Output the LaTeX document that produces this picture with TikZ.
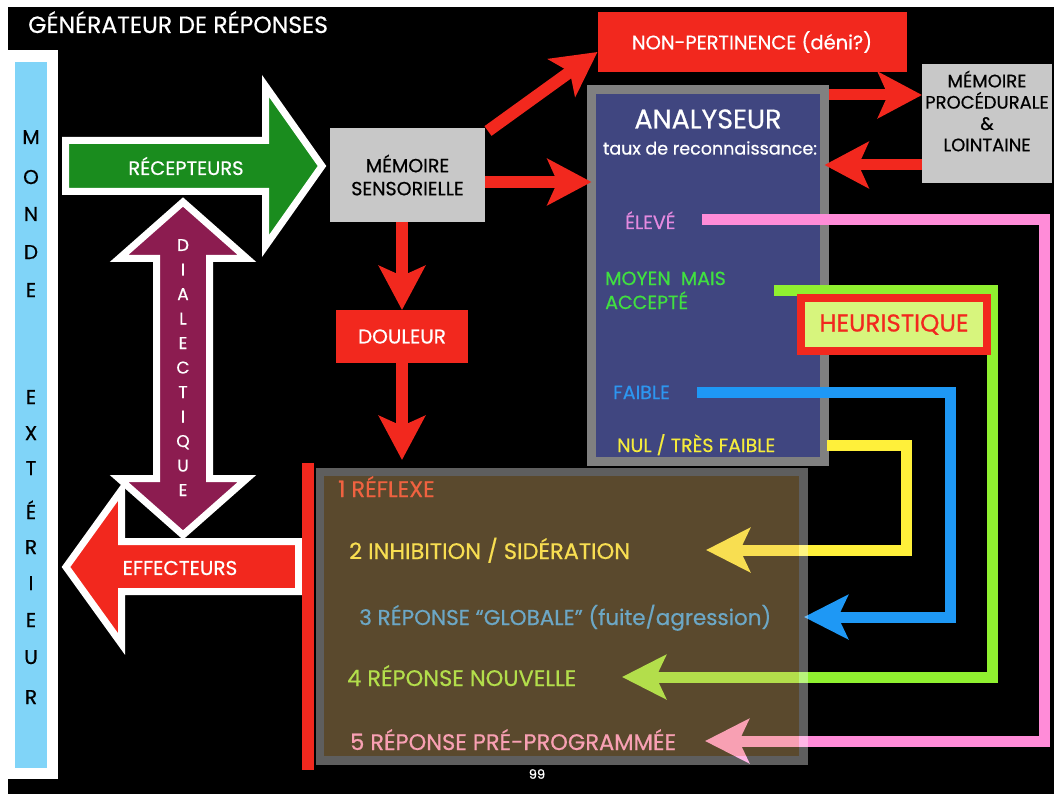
\documentclass[tikz,border=0pt]{standalone}
\usepackage{fontspec}
\setmainfont{Poppins}[FakeBold=0.6]
\usetikzlibrary{arrows.meta}
\definecolor{redc}{HTML}{F2281E}
\definecolor{greenarr}{HTML}{1A8C1E}
\definecolor{maroonc}{HTML}{8C1C50}
\definecolor{skyb}{HTML}{80D4F8}
\definecolor{lgray}{HTML}{C8C8C8}
\definecolor{anablue}{HTML}{404680}
\definecolor{anagray}{HTML}{808080}
\definecolor{heurfill}{HTML}{D7F57D}
\definecolor{cyel}{HTML}{FFF03A}
\definecolor{cblue}{HTML}{1E98F5}
\definecolor{cgreen}{HTML}{90F030}
\definecolor{cpink}{HTML}{FF8CD8}
\definecolor{overlayc}{RGB}{237,193,120}
\definecolor{televe}{HTML}{E48AE0}
\definecolor{tmoyen}{HTML}{40E040}
\definecolor{tfaible}{HTML}{2D96F0}
\definecolor{tnul}{HTML}{F5EB3C}
\newcommand\myfs[2]{\fontsize{#1}{#2}\selectfont}
\tikzset{
  redarrow/.style={draw=redc, line width=12pt, -{Stealth[length=44pt,width=46pt,inset=10pt]}},
  conn/.style={line width=11pt, line join=miter, -{Stealth[length=44pt,width=44pt,inset=10pt]}},
  greybox/.style={fill=lgray, inner sep=0pt, outer sep=0pt, align=center, text=black},
  redbox/.style={fill=redc, inner sep=0pt, outer sep=0pt, text=white},
  mletter/.style={text=black, font=\myfs{20}{20}, text height=14pt, text depth=0pt, inner sep=0pt},
  dletter/.style={text=white, font=\myfs{17}{17}, text height=12pt, text depth=0pt, inner sep=0pt},
  bigarrow/.style={draw=white, line width=7pt, line join=miter},
  anatext/.style={anchor=base west, inner sep=0pt, font=\myfs{19}{24}, align=left},
  resptext/.style={anchor=base west, inner sep=0pt, font=\myfs{22.5}{22.5}},
}
\begin{document}
\begin{tikzpicture}[x=1pt,y=-1pt]
\useasboundingbox (0,0) rectangle (1054,794);
\fill[white] (0,0) rectangle (1054,794);
\fill[black] (8,7) rectangle (1054,794);

% title
\node[anchor=base west, text=white, font=\myfs{23.5}{25}, inner sep=0pt] (title) at (28,33) {GÉNÉRATEUR DE RÉPONSES};

% monde exterieur
\node[fill=white, minimum width=50pt, minimum height=729pt, inner sep=0pt, outer sep=0pt] (mondeW) at (33,414.5) {};
\node[fill=skyb, minimum width=32pt, minimum height=706pt, inner sep=0pt, outer sep=0pt] (monde) at (31,415) {};
\foreach \l/\yy [count=\i] in {M/137,O/177,N/214,D/252,E/290,E/397,X/433,T/468,É/512,R/547,I/583,E/620,U/657,R/697}
  \node[mletter] (ml\i) at (31,\yy) {\l};

% big arrows
\draw[bigarrow, fill=greenarr] (65.5,140.5) -- (265.5,140.5) -- (265.5,86) -- (322,166) -- (265.5,246) -- (265.5,191.5) -- (65.5,191.5) -- cycle;
\node[text=white, font=\myfs{19.5}{19.5}] (recep) at (186,166) {RÉCEPTEURS};

\draw[bigarrow, fill=redc] (66,567) -- (121.5,490) -- (121.5,541.5) -- (298.5,541.5) -- (298.5,591.5) -- (121.5,591.5) -- (121.5,644) -- cycle;
\node[text=white, font=\myfs{20}{20}] (effect) at (180,568) {EFFECTEURS};

\draw[bigarrow, fill=maroonc] (183,202) -- (247,258.5) -- (209.5,258.5) -- (209.5,478.5) -- (247,478.5) -- (183,535) -- (119,478.5) -- (156.5,478.5) -- (156.5,258.5) -- (119,258.5) -- cycle;
\foreach \l [count=\i] in {D,I,A,L,E,C,T,I,Q,U,E}
  \node[dletter] (dl\i) at (183,{245+24.5*(\i-1)}) {\l};

% boxes
\node[greybox, minimum width=155pt, minimum height=94pt, font=\myfs{19}{23}] (ms) at (407.5,175) {MÉMOIRE\\SENSORIELLE};
\node[redbox, minimum width=132pt, minimum height=53pt, font=\myfs{20}{20}] (douleur) at (402,336.5) {DOULEUR};
\node[redbox, minimum width=309pt, minimum height=60pt, font=\myfs{19.5}{19.5}] (np) at (752,42) {NON-PERTINENCE (déni?)};
\node[greybox, minimum width=130pt, minimum height=119pt] (mp) at (987,123.5) {};
\node[inner sep=0pt, align=center, font=\myfs{18}{21.3}, text=black] (mptext) at (987,111) {MÉMOIRE\\PROCÉDURALE\\\&\\LOINTAINE};

\node[fill=anablue, draw=anagray, line width=9pt, minimum width=233pt, minimum height=372pt, inner sep=0pt, outer sep=0pt] (ana) at (708,275.5) {};
\node[text=white, font=\myfs{27}{27}, inner sep=0pt] (anatitle) at (708,119) {ANALYSEUR};
\node[text=white, font=\myfs{17.5}{17.5}, inner sep=0pt] (taux) at (710,148) {taux de reconnaissance:};
\node[anatext, text=televe] (eleve) at (625,229) {ÉLEVÉ};
\node[anatext, text=tmoyen] (moyen) at (605,309) {MOYEN\ \ MAIS\\ACCEPTÉ};
\node[anatext, text=tfaible] (faible) at (613,399) {FAIBLE};
\node[anatext, text=tnul] (nul) at (617,452) {NUL / TRÈS FAIBLE};

% red bar
\node[fill=redc, minimum width=12pt, minimum height=307pt, inner sep=0pt, outer sep=0pt] (bar) at (308,616.5) {};

% response texts (under translucent box)
\node[resptext, text=redc] (r1) at (338,497) {1 RÉFLEXE};
\node[resptext, text=cyel] (r2) at (349,559) {2 INHIBITION / SIDÉRATION};
\node[resptext, font=\myfs{21.5}{21.5}, text=cblue] (r3) at (359,625) {3 RÉPONSE “GLOBALE” (fuite/agression)};
\node[resptext, text=cgreen] (r4) at (347,686) {4 RÉPONSE NOUVELLE};
\node[resptext, text=cpink] (r5) at (350,750) {5 RÉPONSE PRÉ-PROGRAMMÉE};

% coloured connectors
\coordinate (yS) at (827,445); \coordinate (yC) at (906,550); \coordinate (yT) at (706,550);
\coordinate (bS) at (697,392); \coordinate (bC) at (950,617); \coordinate (bT) at (804,617);
\coordinate (gS) at (774,290); \coordinate (gC) at (992,677); \coordinate (gT) at (622,677);
\coordinate (pS) at (702,220); \coordinate (pC) at (1044,741); \coordinate (pT) at (705,741);
\draw[conn, draw=cpink] (pS) -| (pC) -- (pT);
\draw[conn, draw=cgreen] (gS) -| (gC) -- (gT);
\draw[conn, draw=cblue] (bS) -| (bC) -- (bT);
\draw[conn, draw=cyel] (yS) -| (yC) -- (yT);

% translucent response box
\node[fill=overlayc, fill opacity=0.38, minimum width=475pt, minimum height=280pt, inner sep=0pt, outer sep=0pt] (resp) at (561.5,616) {};
\draw[white, opacity=0.37, line width=8.5pt] ([shift={(-4.25pt,4.25pt)}]resp.north west) rectangle ([shift={(4.25pt,-4.25pt)}]resp.south east);

% heuristique
\node[fill=heurfill, draw=redc, line width=8pt, minimum width=186pt, minimum height=53pt, inner sep=0pt, outer sep=0pt, text=redc, font=\myfs{24.5}{24.5}] (heur) at (894,324.5) {HEURISTIQUE};

% red arrows
\draw[redarrow] ([shift={(3pt,-3pt)}]ms.north east) -- ([yshift=-10pt]np.west);
\coordinate (msR) at ([yshift=-7pt]ms.east);
\draw[redarrow] (msR) -- (msR -| ana.west);
\draw[redarrow] (ms.south -| douleur.north) -- (douleur.north);
\coordinate (respTop) at (402,460);
\draw[redarrow] (douleur.south) -- (respTop);
\coordinate (a2m) at (829,95);
\draw[redarrow, line width=11pt] (a2m) -- (a2m -| mp.west);
\coordinate (m2a) at (922,165);
\draw[redarrow, line width=11pt] (m2a) -- (m2a -| ana.east);

% page number
\node[text=white, font=\myfs{13}{13}, inner sep=0pt] (pg) at (537,774) {99};
\end{tikzpicture}
\end{document}
